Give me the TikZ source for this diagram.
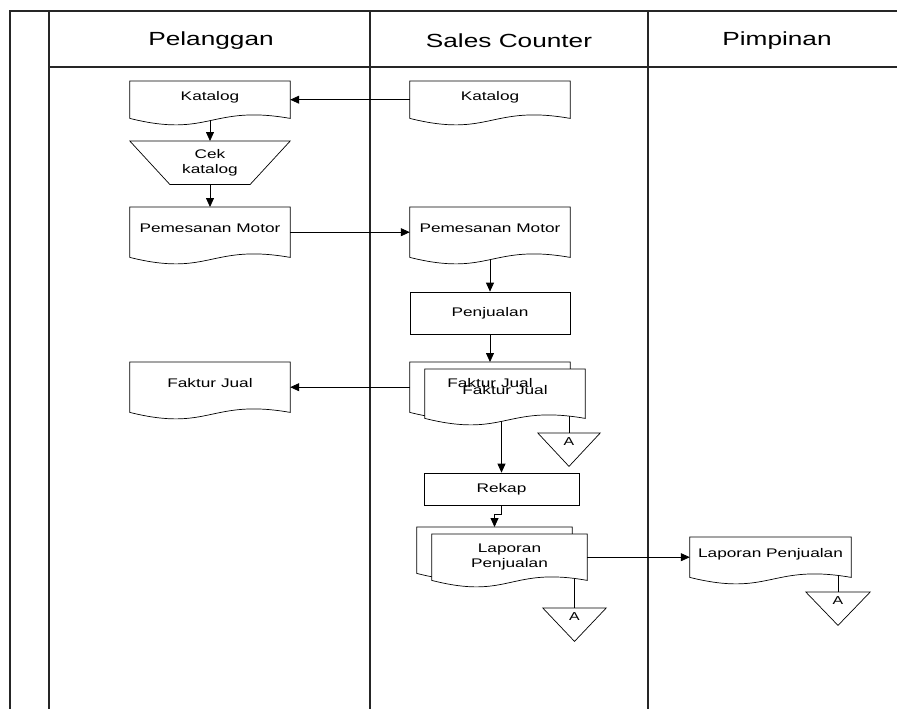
\documentclass[tikz,border=0pt]{standalone}
\usepackage{fontspec}
\setmainfont{Liberation Sans}[FakeStretch=1.38]
\usetikzlibrary{arrows.meta,calc}
\pgfdeclarelayer{latar}
\pgfsetlayers{latar,main}

% garis bentuk dokumen, segitiga konektor dan operasi manual
\newcommand{\dokgaris}[1]{%
  \begin{pgfonlayer}{latar}
    \draw[garis] (#1.north west) -- (#1.north east) -- (#1.south east)
      .. controls ($(#1.south)+(0,-14)$) and ($(#1.south)+(0,20)$) .. (#1.south west) -- cycle;
  \end{pgfonlayer}}
\newcommand{\segitiga}[1]{%
  \begin{pgfonlayer}{latar}
    \draw[garis] (#1.north west) -- (#1.north east) -- (#1.south) -- cycle;
  \end{pgfonlayer}}
\newcommand{\manual}[1]{%
  \begin{pgfonlayer}{latar}
    \draw[garis] (#1.north west) -- (#1.north east) -- ($(#1.south east)+(-40,0)$)
      -- ($(#1.south west)+(40,0)$) -- cycle;
  \end{pgfonlayer}}

\begin{document}
\begin{tikzpicture}[x=1pt,y=-1pt,
    garis/.style={draw=black,line width=0.7pt,fill=white},
    lajur/.style={draw=black!85,line width=1.3pt},
    panah/.style={line width=0.8pt,-{Triangle[length=9pt,width=8pt]}},
    hubung/.style={line width=0.8pt,shorten <=-2.5pt},
    judul/.style={font=\fontsize{19}{22}\selectfont},
    dok/.style={rectangle,inner sep=0pt,minimum width=160pt,anchor=north,
      align=center,font=\fontsize{12.5}{15}\selectfont},
    naik/.style={text height=9pt,text depth=7.6pt},
    proses/.style={rectangle,draw,line width=0.7pt,inner sep=0pt,minimum width=160pt,
      minimum height=42pt,font=\fontsize{12.5}{15}\selectfont},
    konektor/.style={rectangle,inner sep=1pt,minimum width=62pt,minimum height=33pt,
      anchor=north,text height=11pt,text depth=19pt,font=\fontsize{11.5}{14}\selectfont}]
  \useasboundingbox (0,0) rectangle (897,709);

  % lajur
  \draw[lajur] (10,709) -- (10,11) -- (897,11);
  \draw[lajur] (49,11) -- (49,709);
  \draw[lajur] (370,11) -- (370,709);
  \draw[lajur] (648,11) -- (648,709);
  \draw[lajur] (49,67) -- (897,67);
  \node[judul] (hpel) at (211,41) {Pelanggan};
  \node[judul] (hsal) at (509,41) {Sales Counter};
  \node[judul] (hpim) at (777,41) {Pimpinan};

  % Pelanggan
  \node[dok,naik,minimum height=37pt] (kat1) at (210,81) {Katalog};
  \dokgaris{kat1}
  \node[dok,minimum height=43pt] (cek) at (210,141) {Cek\\katalog};
  \manual{cek}
  \node[dok,naik,minimum height=50pt] (pm1) at (210,207) {Pemesanan Motor};
  \dokgaris{pm1}
  \node[dok,naik,minimum height=50pt] (fj1) at (210,362) {Faktur Jual};
  \dokgaris{fj1}

  % Sales Counter
  \node[dok,naik,minimum height=37pt] (kat2) at (490,81) {Katalog};
  \dokgaris{kat2}
  \node[dok,naik,minimum height=50pt] (pm2) at (490,207) {Pemesanan Motor};
  \dokgaris{pm2}
  \node[proses] (penj) at (490,313) {Penjualan};
  \node[dok,naik,minimum height=50pt] (fjb) at (490,362) {Faktur Jual};
  \dokgaris{fjb}
  \node[dok,naik,minimum height=49pt] (fjf) at (505,369) {Faktur Jual};
  \dokgaris{fjf}
  \node[konektor] (ca1) at (569,433) {A};
  \segitiga{ca1}
  \node[proses,minimum width=155pt,minimum height=32pt] (rekap) at (501.5,489) {Rekap};
  \node[dok,minimum width=155pt,minimum height=46pt] (lpb) at (494.5,527) {};
  \dokgaris{lpb}
  \node[dok,minimum width=155pt,minimum height=46pt] (lpf) at (509.5,534) {Laporan\\Penjualan};
  \dokgaris{lpf}
  \node[konektor,minimum width=63pt] (ca2) at (574.5,608) {A};
  \segitiga{ca2}

  % Pimpinan
  \node[dok,naik,minimum width=161pt,minimum height=40pt] (lp3) at (770.5,537) {Laporan Penjualan};
  \dokgaris{lp3}
  \node[konektor,minimum width=64pt] (ca3) at (838,592) {A};
  \segitiga{ca3}

  % alur
  \draw[panah] (kat2.west) -- (kat1.east);
  \draw[panah,shorten <=2pt] (kat1.south) -- (cek.north);
  \draw[panah] (cek.south) -- (pm1.north);
  \draw[panah] (pm1.east) -- (pm2.west);
  \draw[panah,shorten <=2pt] (pm2.south) -- (penj.north);
  \draw[panah] (penj.south) -- (fjb.north);
  \draw[panah] (fjb.west) -- (fj1.east);
  \draw[panah,shorten <=3pt] (fjf.south -| rekap.north) -- (rekap.north);
  \draw[hubung] (fjf.south -| ca1.north) -- (ca1.north);
  \draw[panah] (rekap.south) -- ++(0,9) -| (lpb.north);
  \draw[panah] (lpf.east) -- (lp3.west);
  \draw[hubung] (lpf.south -| ca2.north) -- (ca2.north);
  \draw[hubung] (lp3.south -| ca3.north) -- (ca3.north);
\end{tikzpicture}
\end{document}
